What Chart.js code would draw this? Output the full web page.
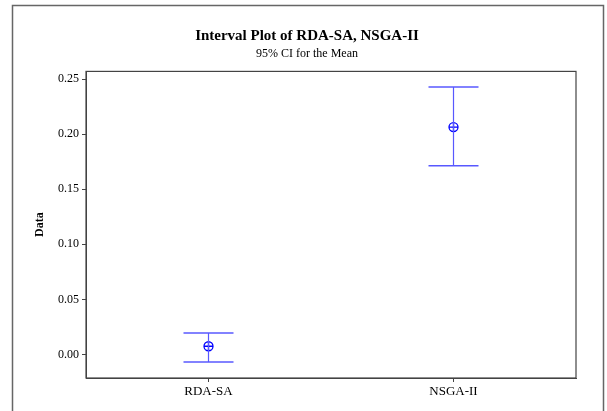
<!DOCTYPE html>
<html>
<head>
<meta charset="utf-8">
<script src="https://cdn.jsdelivr.net/npm/chart.js@4/dist/chart.umd.min.js"></script>
<style>
  html, body { margin: 0; padding: 0; background: #fff; }
  #wrap { width: 607px; height: 411px; position: relative; }
</style>
</head>
<body>
<div id="wrap"><canvas id="intervalChart" width="607" height="411"></canvas></div>
<script>
// =========================
// DATA
// =========================
const categories = ["RDA-SA", "NSGA-II"];
const means = [0.0075, 0.2064];
const lowerCI = [-0.0067, 0.1712];
const upperCI = [0.0196, 0.2427];
const yTicks = [0.00, 0.05, 0.10, 0.15, 0.20, 0.25];

const BLUE = "#5858ff";
const SERIF = "'Liberation Serif', 'Times New Roman', serif";

// =========================
// BUILD DATASETS
// =========================
// one dataset per category: the CI whisker with caps (pointStyle "line")
const whiskerSets = categories.map((cat, i) => ({
  data: [{ x: cat, y: lowerCI[i] }, { x: cat, y: upperCI[i] }],
  showLine: true,
  borderColor: BLUE,
  borderWidth: 1.2,
  pointStyle: "line",
  pointRadius: 25,
  pointBorderWidth: 1.5,
  pointHoverRadius: 25
}));

const meanCircle = {
  data: categories.map((cat, i) => ({ x: cat, y: means[i] })),
  showLine: false,
  pointStyle: "circle",
  pointRadius: 4.5,
  borderColor: "#0000ff",
  backgroundColor: "rgba(0,0,0,0)",
  pointBorderWidth: 1.3
};

const meanCross = {
  data: categories.map((cat, i) => ({ x: cat, y: means[i] })),
  showLine: false,
  pointStyle: "cross",
  pointRadius: 4.5,
  borderColor: "#0000ff",
  pointBorderWidth: 1.3
};

// =========================
// FRAME + PLOT BOX
// =========================
const framePlugin = {
  id: "frame",
  beforeDraw(chart) {
    const ctx = chart.ctx;
    ctx.save();
    ctx.fillStyle = "#fff";
    ctx.fillRect(0, 0, chart.width, chart.height);
    ctx.strokeStyle = "#666";
    ctx.lineWidth = 1.5;
    ctx.beginPath();
    ctx.moveTo(12.5, chart.height);
    ctx.lineTo(12.5, 5.5);
    ctx.lineTo(603.5, 5.5);
    ctx.lineTo(603.5, chart.height);
    ctx.stroke();
    ctx.restore();
  },
  afterDatasetsDraw(chart) {
    const { left, top, right, bottom } = chart.chartArea;
    const ctx = chart.ctx;
    ctx.save();
    ctx.strokeStyle = "#444";
    ctx.lineWidth = 1.2;
    ctx.strokeRect(left, top, right - left, bottom - top);
    ctx.restore();
  }
};

// =========================
// CHART
// =========================
new Chart(document.getElementById("intervalChart"), {
  type: "line",
  data: { datasets: [...whiskerSets, meanCircle, meanCross] },
  plugins: [framePlugin],
  options: {
    responsive: false,
    animation: false,
    layout: { padding: { left: 7, right: 0, top: 0, bottom: 0 } },
    plugins: {
      legend: { display: false },
      tooltip: { enabled: false },
      title: {
        display: true,
        text: "Interval Plot of RDA-SA, NSGA-II",
        color: "#000",
        font: { family: SERIF, size: 15, weight: "bold" },
        padding: { top: 27, bottom: 0 }
      },
      subtitle: {
        display: true,
        text: "95% CI for the Mean",
        color: "#000",
        font: { family: SERIF, size: 12 },
        padding: { top: 2, bottom: 10 }
      }
    },
    scales: {
      x: {
        type: "category",
        labels: categories,
        offset: true,
        grid: { drawOnChartArea: false, offset: false, tickLength: 4, color: "#444" },
        border: { color: "#444" },
        ticks: { color: "#000", padding: 2, font: { family: SERIF, size: 13 } },
        afterFit(scale) { scale.height = 33; }
      },
      y: {
        min: -0.0213,
        max: 0.2569,
        grid: { drawOnChartArea: false, tickLength: 4, color: "#444" },
        border: { color: "#444" },
        ticks: {
          color: "#000",
          padding: 3,
          font: { family: SERIF, size: 12 },
          callback: v => v.toFixed(2)
        },
        afterBuildTicks(scale) { scale.ticks = yTicks.map(v => ({ value: v })); },
        title: {
          display: true,
          text: "Data",
          color: "#000",
          font: { family: SERIF, size: 12, weight: "bold" },
          padding: { top: 26, bottom: 0 }
        },
        afterFit(scale) { scale.width = 79; }
      },
      y2: {
        position: "right",
        display: true,
        grid: { display: false },
        border: { display: false },
        ticks: { display: false },
        afterFit(scale) { scale.width = 31; }
      }
    }
  }
});
</script>
</body>
</html>
